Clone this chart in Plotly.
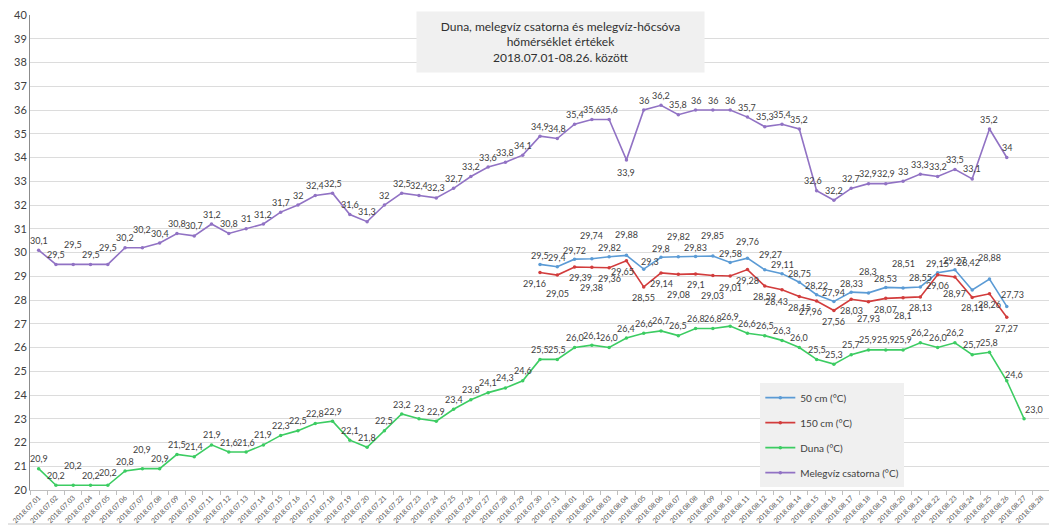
import plotly.graph_objects as go

# ---------------- data ----------------
dates = [f"2018.07.{d:02d}" for d in range(1, 32)] + [f"2018.08.{d:02d}" for d in range(1, 29)]

# Melegvíz csatorna (°C): 2018.07.01 - 2018.08.26
melegviz = [30.1, 29.5, 29.5, 29.5, 29.5, 30.2, 30.2, 30.4, 30.8, 30.7,
            31.2, 30.8, 31, 31.2, 31.7, 32, 32.4, 32.5, 31.6, 31.3,
            32, 32.5, 32.4, 32.3, 32.7, 33.2, 33.6, 33.8, 34.1, 34.9,
            34.8,
            35.4, 35.6, 35.6, 33.9, 36, 36.2, 35.8, 36, 36, 36,
            35.7, 35.3, 35.4, 35.2, 32.6, 32.2, 32.7, 32.9, 32.9, 33,
            33.3, 33.2, 33.5, 33.1, 35.2, 34]

# Duna (°C): 2018.07.01 - 2018.08.27
duna = [20.9, 20.2, 20.2, 20.2, 20.2, 20.8, 20.9, 20.9, 21.5, 21.4,
        21.9, 21.6, 21.6, 21.9, 22.3, 22.5, 22.8, 22.9, 22.1, 21.8,
        22.5, 23.2, 23, 22.9, 23.4, 23.8, 24.1, 24.3, 24.6, 25.5,
        25.5,
        26.0, 26.1, 26.0, 26.4, 26.6, 26.7, 26.5, 26.8, 26.8, 26.9,
        26.6, 26.5, 26.3, 26.0, 25.5, 25.3, 25.7, 25.9, 25.9, 25.9,
        26.2, 26.0, 26.2, 25.7, 25.8, 24.6, 23.0]

# 50 cm and 150 cm (°C): 2018.07.30 - 2018.08.26
hocsova_start = "2018.07.30"
cm50 = [29.5, 29.4, 29.72, 29.74, 29.82, 29.88, 29.3, 29.8, 29.82, 29.83,
        29.85, 29.58, 29.76, 29.27, 29.11, 28.75, 28.22, 27.94, 28.33, 28.3,
        28.53, 28.51, 28.55, 29.15, 29.27, 28.42, 28.88, 27.73]
cm150 = [29.16, 29.05, 29.39, 29.38, 29.36, 29.65, 28.55, 29.14, 29.08, 29.1,
         29.03, 29.01, 29.28, 28.59, 28.43, 28.15, 27.96, 27.56, 28.03, 27.93,
         28.07, 28.1, 28.13, 29.06, 28.97, 28.11, 28.26, 27.27]

title_lines = ["Duna, melegvíz csatorna és melegvíz-hőcsóva",
               "hőmérséklet értékek",
               "2018.07.01-08.26. között"]

# ---------------- styling ----------------
C_BLUE = "#5b9bd5"
C_RED = "#d23c3c"
C_GREEN = "#3ccc62"
C_PURPLE = "#9172c4"
FONT = "Lato, Open Sans, sans-serif"
LABEL_FONT = dict(family=FONT, size=9, color="#404040")

i0 = dates.index(hocsova_start)
x_purple = dates[:len(melegviz)]
x_green = dates[:len(duna)]
x_hoc = dates[i0:i0 + len(cm50)]


def fmt(v, fixed=False):
    s = f"{v:.1f}" if fixed else f"{v:g}"
    return s.replace(".", ",")


fig = go.Figure()


def add_series(name, xs, ys, color):
    fig.add_trace(go.Scatter(
        x=xs, y=ys, name=name, mode="lines+markers",
        line=dict(color=color, width=1.6),
        marker=dict(color=color, size=3.5),
        legendgroup=name,
    ))


add_series("50 cm (°C)", x_hoc, cm50, C_BLUE)
add_series("150 cm (°C)", x_hoc, cm150, C_RED)
add_series("Duna (°C)", x_green, duna, C_GREEN)
add_series("Melegvíz csatorna (°C)", x_purple, melegviz, C_PURPLE)

# label offset overrides (pixels): index -> (xshift, yshift)
purple_over = {2: (0, 20), 4: (0, 17), 6: (0, 18), 34: (0, -13), 45: (-4, 10)}
green_over = {2: (0, 20), 4: (0, 13), 6: (0, 19), 56: (7, 6), 57: (10, 9)}
blue_over = {3: (0, 23), 5: (0, 21), 6: (6, 8), 8: (0, 20), 10: (0, 21),
             12: (0, 17), 13: (6, 15), 19: (0, 21), 21: (0, 24),
             25: (-4, 28), 26: (0, 22), 27: (6, 12)}
red_over = {0: (-6, -11), 1: (0, -18), 2: (6, -11), 3: (0, -20), 5: (-4, -11),
            8: (0, -20), 10: (0, -20), 14: (-6, -12), 16: (-6, -11), 19: (0, -17),
            21: (0, -18), 24: (0, -17), 25: (0, -10)}


def add_labels(xs, ys, default_shift, over, fixed_from=None):
    for k, (xv, yv) in enumerate(zip(xs, ys)):
        xs_, ys_ = over.get(k, (0, default_shift))
        fixed = fixed_from is not None and k >= fixed_from
        fig.add_annotation(x=xv, y=yv, text=fmt(yv, fixed), showarrow=False,
                           xshift=xs_, yshift=ys_, font=LABEL_FONT)


add_labels(x_purple, melegviz, 10, purple_over)
add_labels(x_green, duna, 10, green_over, fixed_from=dates.index("2018.08.01"))
add_labels(x_hoc, cm50, 9, blue_over)
add_labels(x_hoc, cm150, -11, red_over)

# title box
fig.add_annotation(
    xref="paper", yref="paper", x=0.52, y=0.943, xanchor="center", yanchor="middle",
    text="<br>".join(title_lines), showarrow=False, align="center",
    font=dict(family=FONT, size=12, color="#303030"),
    bgcolor="#f0f0f0", width=285, height=58,
)

# outer frame
fig.add_shape(type="rect", xref="paper", yref="paper", x0=-0.0275, x1=1.0049, y0=-0.0716, y1=1.0274,
              line=dict(color="#c8c8c8", width=1))

# page body has an 8px offset: figure is sized/positioned to compensate
fig.update_layout(
    width=1049, height=518,
    margin=dict(l=22, r=7, t=7, b=36),
    paper_bgcolor="white", plot_bgcolor="white",
    showlegend=True,
    legend=dict(
        x=0.716, y=0.225, xanchor="left", yanchor="top",
        bgcolor="#f0f0f0", font=dict(family=FONT, size=10, color="#404040"),
        tracegroupgap=6, itemwidth=30,
    ),
    xaxis=dict(
        type="category", categoryorder="array", categoryarray=dates,
        tickvals=dates, ticktext=dates,
        range=[-0.5, len(dates) - 0.5], tickangle=-45,
        tickfont=dict(family=FONT, size=7, color="#595959"),
        showgrid=False, showline=True, linecolor="#bfbfbf", linewidth=1,
        ticks="outside", ticklen=4, tickcolor="#bfbfbf", tickson="boundaries",
        automargin=False, ticklabeloverflow="allow",
    ),
    yaxis=dict(
        range=[20, 40], dtick=1, tick0=20,
        tickfont=dict(family=FONT, size=11, color="#404040"),
        showgrid=True, gridcolor="#dcdcdc", gridwidth=1,
        showline=True, linecolor="#8c8c8c", linewidth=1,
        zeroline=False, automargin=False, ticklabeloverflow="allow",
    ),
)

fig.write_html("out.html")
